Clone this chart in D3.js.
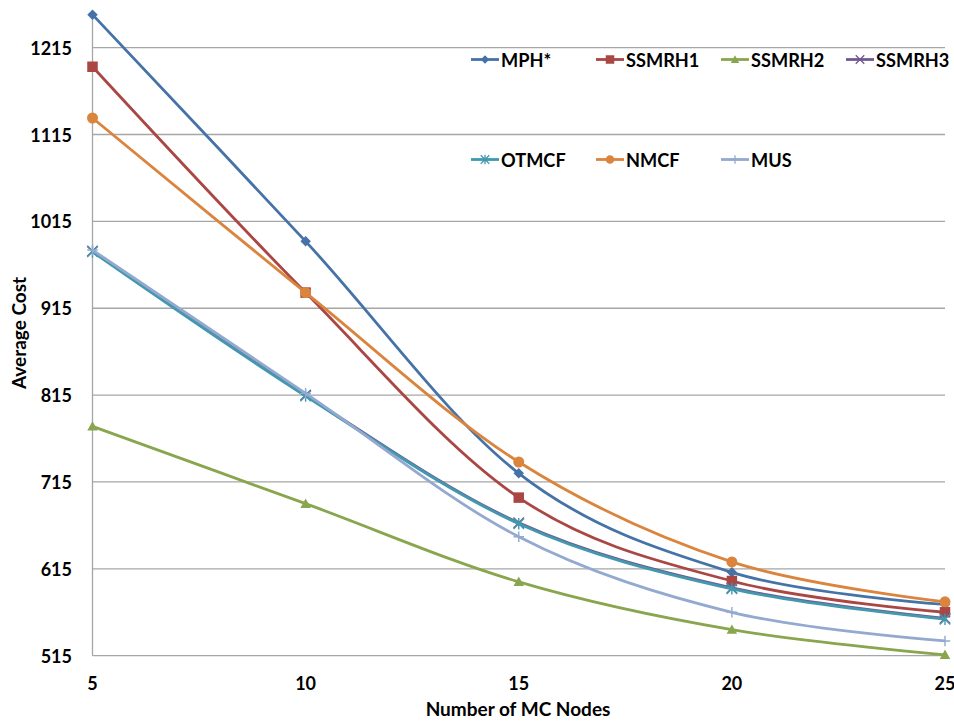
<!DOCTYPE html>
<html>
<head>
<meta charset="utf-8">
<script src="https://cdn.jsdelivr.net/npm/d3@7"></script>
<style>
  html, body { margin: 0; padding: 0; background: #fff; }
  svg { display: block; }
  text { font-family: Lato, "Open Sans", sans-serif; font-weight: bold; fill: #000; }
</style>
</head>
<body>
<svg id="chart" width="954" height="722"></svg>
<script>
// Number of multicast nodes on the x axis
const nodes = [5, 10, 15, 20, 25];

// Average cost per algorithm
const mph    = [1253, 992, 725, 611, 574];
const ssmrh1 = [1193, 933, 697, 601, 565];
const ssmrh2 = [779, 690, 600, 545, 516];
const ssmrh3 = [981, 815, 668, 593, 558];
const otmcf  = [980, 814, 667, 592, 557];
const nmcf   = [1134, 933, 738, 623, 577];
const mus    = [982, 817, 652, 565, 532];

const seriesNames = ["MPH*", "SSMRH1", "SSMRH2", "SSMRH3", "OTMCF", "NMCF", "MUS"];
const yTicks = [515, 615, 715, 815, 915, 1015, 1115, 1215];

const series = [
  { name: seriesNames[0], values: mph,    color: "#4572A7", marker: "diamond" },
  { name: seriesNames[1], values: ssmrh1, color: "#AA4643", marker: "square" },
  { name: seriesNames[2], values: ssmrh2, color: "#89A54E", marker: "triangle" },
  { name: seriesNames[3], values: ssmrh3, color: "#71588F", marker: "x" },
  { name: seriesNames[4], values: otmcf,  color: "#4198AF", marker: "star" },
  { name: seriesNames[5], values: nmcf,   color: "#DB843D", marker: "circle" },
  { name: seriesNames[6], values: mus,    color: "#93A9CF", marker: "plus" }
];

const svg = d3.select("#chart");
const W = 954, H = 722;
svg.append("rect").attr("width", W).attr("height", H).attr("fill", "#fff");

const x = d3.scaleLinear().domain([5, 25]).range([92.5, 945]);
const y = d3.scaleLinear().domain([515, 1255]).range([655.7, 12.9]);

// horizontal gridlines
svg.append("g").selectAll("line").data(yTicks).join("line")
  .attr("x1", x(5)).attr("x2", x(25))
  .attr("y1", d => y(d)).attr("y2", d => y(d))
  .attr("stroke", "#a6a6a6").attr("stroke-width", 1.3);

// y axis line
svg.append("line")
  .attr("x1", x(5)).attr("x2", x(5))
  .attr("y1", y(1255) + 1).attr("y2", y(515))
  .attr("stroke", "#a6a6a6").attr("stroke-width", 1.3);

// y tick labels
svg.append("g").selectAll("text").data(yTicks).join("text")
  .attr("x", 72).attr("y", d => y(d))
  .attr("text-anchor", "end").attr("dominant-baseline", "central")
  .attr("font-size", 18)
  .text(d => d);

// x tick labels
svg.append("g").selectAll("text").data(nodes).join("text")
  .attr("x", d => x(d)).attr("y", 683)
  .attr("text-anchor", "middle").attr("dominant-baseline", "central")
  .attr("font-size", 18)
  .text(d => d);

// axis titles
svg.append("text")
  .attr("x", 518).attr("y", 708)
  .attr("text-anchor", "middle").attr("dominant-baseline", "central")
  .attr("font-size", 19)
  .text("Number of MC Nodes");

svg.append("text")
  .attr("transform", "translate(18,333) rotate(-90)")
  .attr("text-anchor", "middle").attr("dominant-baseline", "central")
  .attr("font-size", 19)
  .text("Average Cost");

// marker path generator centred on the origin
function markerPath(type, s) {
  const h = s / 2;
  switch (type) {
    case "diamond": return `M0,${-h}L${h},0L0,${h}L${-h},0Z`;
    case "square": return `M${-h},${-h}H${h}V${h}H${-h}Z`;
    case "triangle": return `M0,${-h}L${h},${h * 0.8}L${-h},${h * 0.8}Z`;
    case "circle": return d3.symbol(d3.symbolCircle, Math.PI * h * h)();
    case "x": return `M${-h},${-h}L${h},${h}M${-h},${h}L${h},${-h}`;
    case "star": return `M${-h},${-h}L${h},${h}M${-h},${h}L${h},${-h}M0,${-h * 1.1}V${h * 1.1}`;
    case "plus": return `M${-h},0H${h}M0,${-h}V${h}`;
  }
}
const strokeMarker = t => t === "x" || t === "star" || t === "plus";

const line = d3.line()
  .x((d, i) => x(nodes[i]))
  .y(d => y(d))
  .curve(d3.curveCatmullRom.alpha(0));

const gSeries = svg.append("g");
series.forEach(s => {
  const g = gSeries.append("g");
  g.append("path")
    .attr("d", line(s.values))
    .attr("fill", "none")
    .attr("stroke", s.color)
    .attr("stroke-width", 2.8)
    .attr("stroke-linejoin", "round");
  g.selectAll("path.m").data(s.values).join("path")
    .attr("class", "m")
    .attr("transform", (d, i) => `translate(${x(nodes[i])},${y(d)})`)
    .attr("d", markerPath(s.marker, s.marker === "circle" ? 11 : 10.5))
    .attr("fill", strokeMarker(s.marker) ? "none" : s.color)
    .attr("stroke", s.color)
    .attr("stroke-width", strokeMarker(s.marker) ? 1.4 : 0);
});

// legend: two rows of entries
const legendCols = [471, 596, 721, 846];
const legendRows = [59.5, 159.5];
const legend = svg.append("g");
series.forEach((s, i) => {
  const lx = legendCols[i % 4];
  const ly = legendRows[Math.floor(i / 4)];
  const g = legend.append("g").attr("transform", `translate(${lx},${ly})`);
  g.append("line").attr("x1", 0).attr("x2", 28).attr("y1", 0).attr("y2", 0)
    .attr("stroke", s.color).attr("stroke-width", 2.8);
  g.append("path")
    .attr("transform", "translate(14,0)")
    .attr("d", markerPath(s.marker, 8.5))
    .attr("fill", strokeMarker(s.marker) ? "none" : s.color)
    .attr("stroke", s.color)
    .attr("stroke-width", strokeMarker(s.marker) ? 1.3 : 0);
  g.append("text")
    .attr("x", 30).attr("y", 0)
    .attr("dominant-baseline", "central")
    .attr("font-size", 18.2)
    .text(s.name);
});
</script>
</body>
</html>
